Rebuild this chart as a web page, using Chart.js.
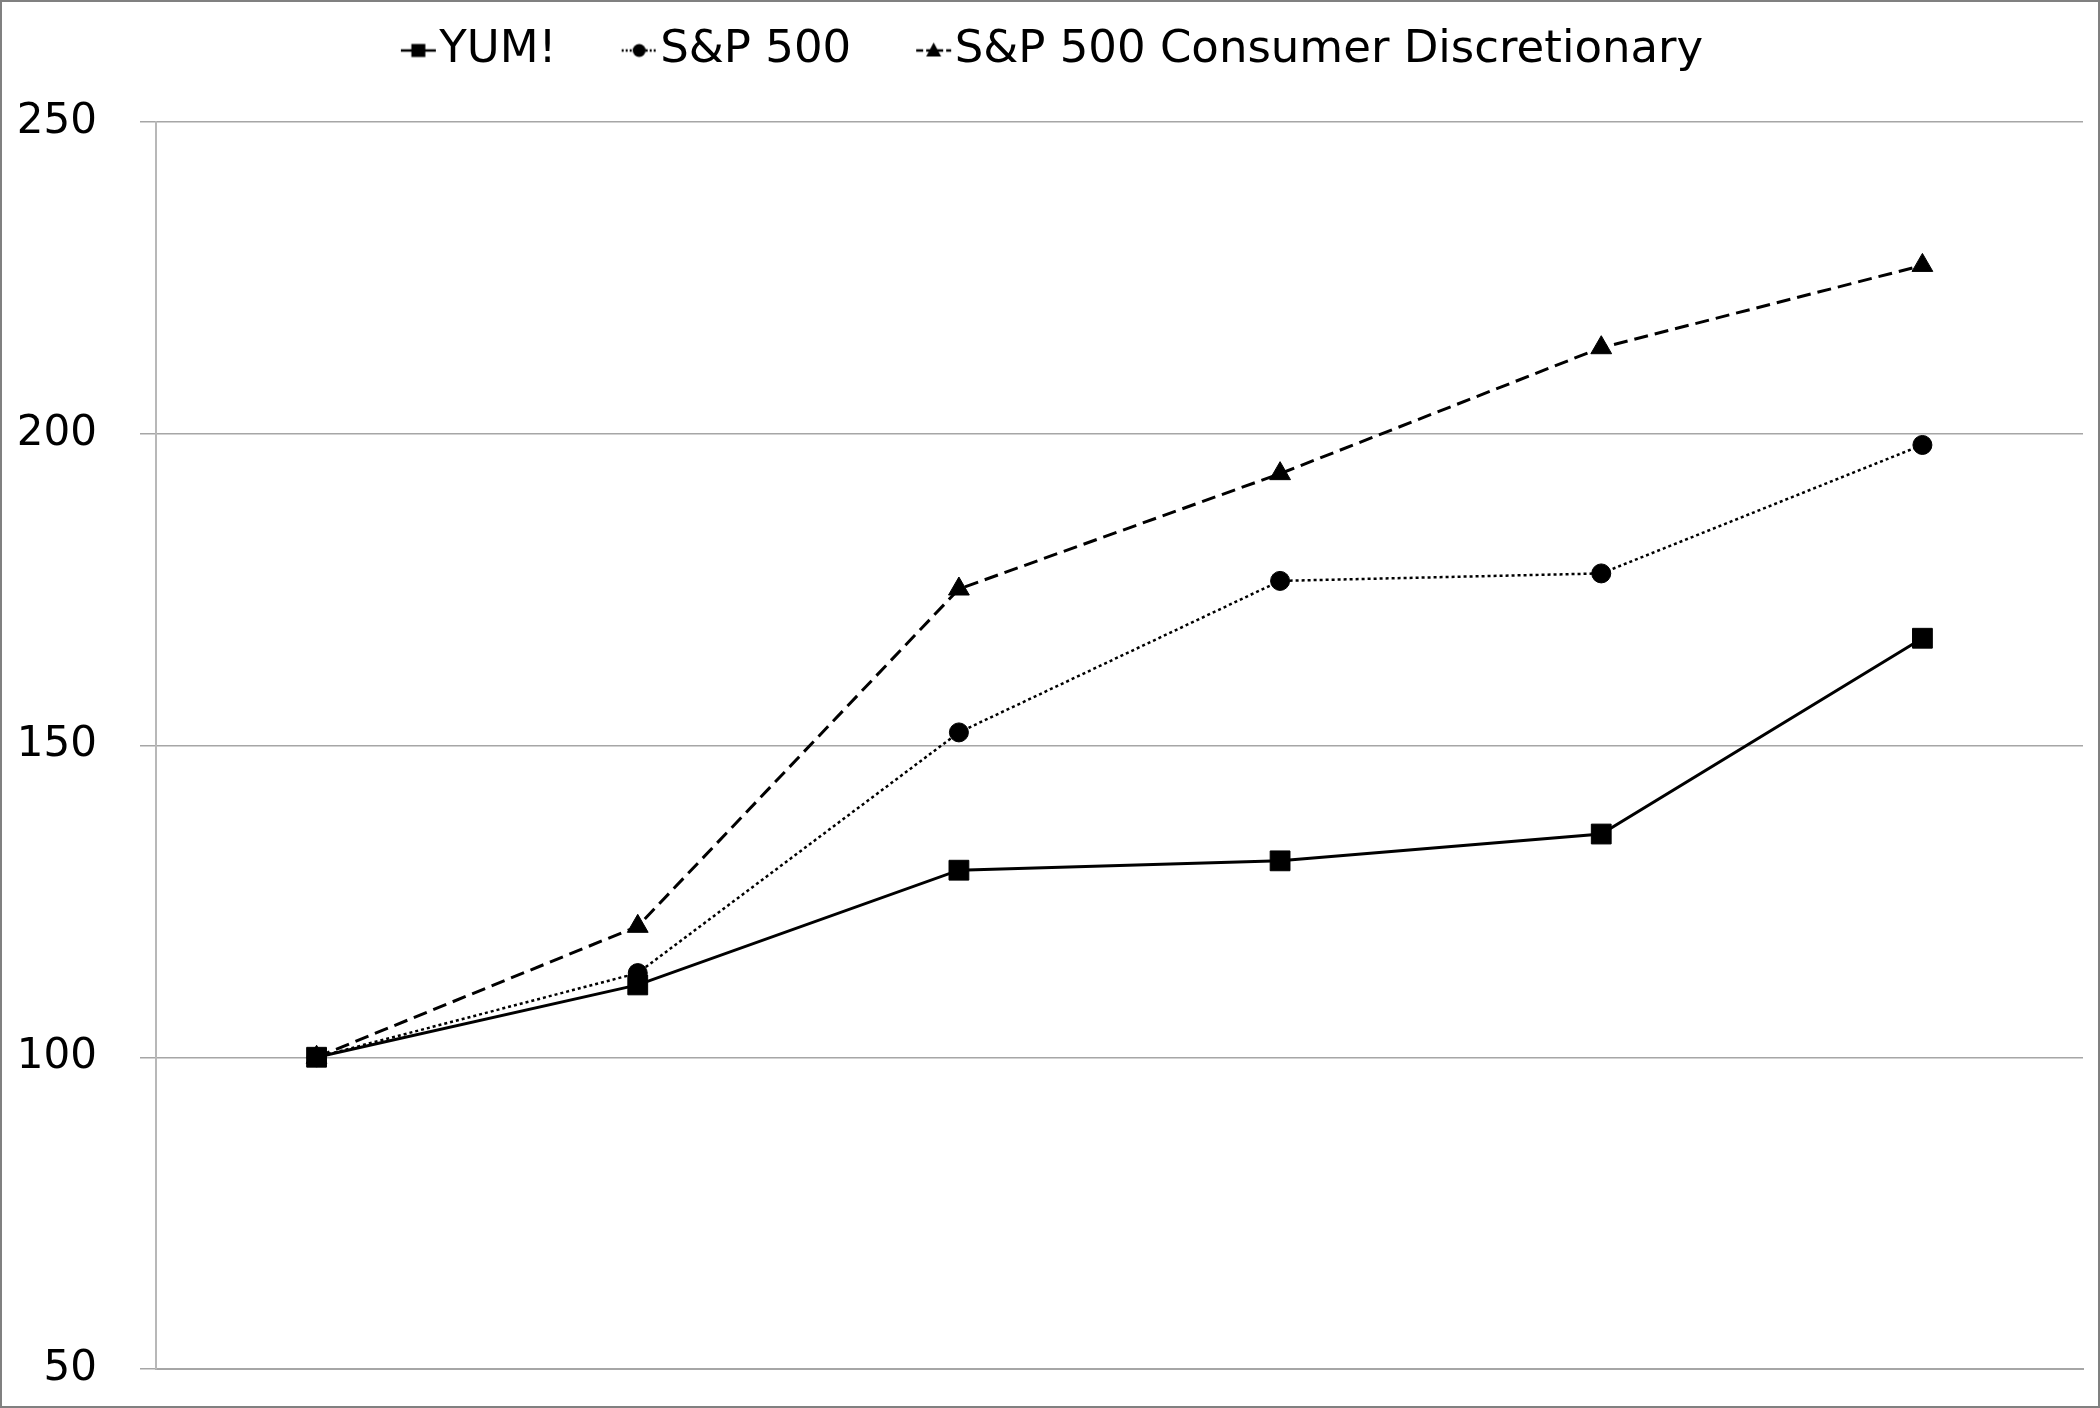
<!DOCTYPE html>
<html>
<head>
<meta charset="utf-8">
<script src="https://cdn.jsdelivr.net/npm/chart.js@4.4.1/dist/chart.umd.min.js"></script>
<style>
  html, body { margin: 0; padding: 0; background: #ffffff; }
  #wrap { width: 2100px; height: 1408px; box-sizing: border-box; border: 2px solid #808080; background: #fff; }
  #box { width: 2096px; height: 1404px; position: relative; }
</style>
</head>
<body>
<div id="wrap"><div id="box"><canvas id="c"></canvas></div></div>
<script>
// ---- data ----
const categories = ['Year 0', 'Year 1', 'Year 2', 'Year 3', 'Year 4', 'Year 5'];
const seriesNames = ['YUM!', 'S&P 500', 'S&P 500 Consumer Discretionary'];
const yumValues = [100, 111.6, 130.0, 131.5, 135.8, 167.2];
const sp500Values = [100, 113.5, 152.1, 176.4, 177.6, 198.2];
const consDiscValues = [100, 121.0, 175.1, 193.6, 213.8, 227.0];
const yTicks = [50, 100, 150, 200, 250];

const FONT = 'DejaVu Sans';

function legendImage(kind) {
  const c = document.createElement('canvas');
  c.width = 110; c.height = 30;
  const g = c.getContext('2d');
  const cx = 55 + 36.5, cy = 15;
  g.strokeStyle = '#000'; g.fillStyle = '#000'; g.lineWidth = 2.5;
  if (kind === 'dot') g.setLineDash([2, 2]);
  if (kind === 'dash') g.setLineDash([7, 3]);
  g.beginPath(); g.moveTo(cx - 17.5, cy); g.lineTo(cx + 17.5, cy); g.stroke();
  g.setLineDash([]);
  g.beginPath();
  if (kind === 'solid') { g.rect(cx - 7, cy - 6.5, 14, 13); }
  else if (kind === 'dot') { g.arc(cx, cy, 6.5, 0, Math.PI * 2); }
  else { g.moveTo(cx, cy - 8); g.lineTo(cx + 7.5, cy + 6); g.lineTo(cx - 7.5, cy + 6); g.closePath(); }
  g.fill();
  return c;
}
const legendImgs = [legendImage('solid'), legendImage('dot'), legendImage('dash')];

const legendSizer = {
  id: 'legendSizer',
  beforeLayout(chart) {
    const lg = chart.legend;
    if (lg && !lg._patched) {
      const f = lg.fit;
      lg.fit = function () { f.call(this); this.height = 105; };
      lg._patched = true;
    }
  },
  afterLayout(chart) {
    const lg = chart.legend;
    if (lg) { lg.left -= 24; lg.right -= 24; }
  }
};

new Chart(document.getElementById('c'), {
  type: 'line',
  data: {
    labels: categories,
    datasets: [
      { label: seriesNames[0], data: yumValues, borderColor: '#000', backgroundColor: '#000',
        borderWidth: 3, pointStyle: 'rect', pointRadius: 14, pointBorderWidth: 1, borderDash: [] },
      { label: seriesNames[1], data: sp500Values, borderColor: '#000', backgroundColor: '#000',
        borderWidth: 2.5, borderDash: [3, 3], pointStyle: 'circle', pointRadius: 9.5, pointBorderWidth: 1 },
      { label: seriesNames[2], data: consDiscValues, borderColor: '#000', backgroundColor: '#000',
        borderWidth: 3, borderDash: [14, 7], pointStyle: 'triangle', pointRadius: 12, pointBorderWidth: 1 }
    ]
  },
  options: {
    responsive: true,
    maintainAspectRatio: false,
    animation: false,
    devicePixelRatio: 1,
    layout: { padding: { left: 11, right: 13, top: 15, bottom: 37 } },
    elements: { line: { tension: 0 } },
    plugins: {
      tooltip: { enabled: false },
      legend: {
        position: 'top',
        align: 'center',
        labels: {
          usePointStyle: true,
          pointStyleWidth: 70,
          padding: 11,
          color: '#000',
          font: { family: FONT, size: 45 },
          generateLabels(chart) {
            const items = Chart.defaults.plugins.legend.labels.generateLabels(chart);
            items.forEach((it, i) => { it.pointStyle = legendImgs[i]; it.lineDash = []; });
            return items;
          }
        }
      }
    },
    scales: {
      x: {
        type: 'category',
        offset: true,
        grid: { display: false, drawTicks: false },
        border: { display: true, color: '#a6a6a6', width: 2 },
        ticks: { display: false, padding: 0 }
      },
      y: {
        min: 50,
        max: 250,
        afterBuildTicks(axis) { axis.ticks = yTicks.map(v => ({ value: v })); },
        afterFit(axis) { axis.width = 143; axis.paddingTop = 0; axis.paddingBottom = 0; },
        grid: { color: '#a6a6a6', lineWidth: 1.5, tickLength: 16, drawTicks: true },
        border: { display: true, color: '#b8b8b8', width: 2 },
        ticks: { color: '#000', font: { family: FONT, size: 42 }, padding: 43 }
      }
    }
  },
  plugins: [legendSizer]
});
</script>
</body>
</html>
